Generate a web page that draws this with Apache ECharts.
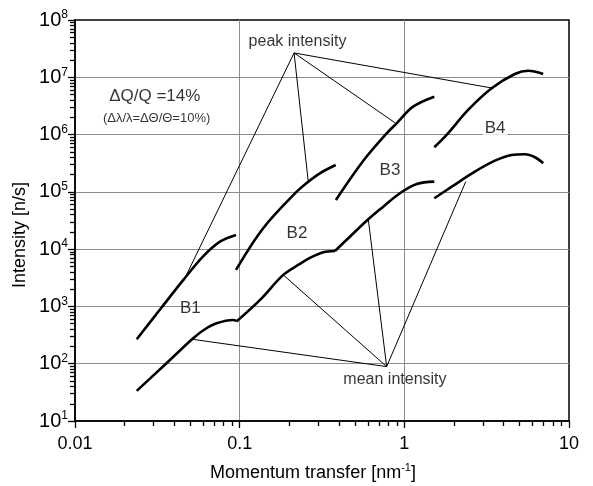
<!DOCTYPE html>
<html><head><meta charset="utf-8">
<script src="https://cdn.jsdelivr.net/npm/echarts@6/dist/echarts.min.js"></script>
<style>html,body{margin:0;padding:0;background:#fff}#c{width:593px;height:486px}</style>
</head><body><div id="c"></div>
<script>
// ---- data ----
const xTickLabels = ['0.01', '0.1', '1', '10'];
const yTickExponents = ['1', '2', '3', '4', '5', '6', '7', '8'];

const b1Peak = [[0.0237, 268], [0.033, 900], [0.0455, 2900], [0.0598, 7400], [0.0759, 13500], [0.095, 17700]];
const b1Mean = [[0.0237, 33.5], [0.035, 95], [0.0522, 279], [0.0615, 400], [0.0724, 509], [0.0914, 581], [0.0955, 558]];
const b2Peak = [[0.095, 4340], [0.139, 23200], [0.222, 100700], [0.261, 150700], [0.307, 211000], [0.383, 294000]];
const b2Mean = [[0.0955, 543], [0.133, 1300], [0.184, 3550], [0.232, 5520], [0.267, 7020], [0.322, 8830], [0.379, 9300]];
const b3Peak = [[0.384, 72200], [0.568, 360000], [0.781, 1.05e6], [0.897, 1.57e6], [1.13, 3.07e6], [1.52, 4.59e6]];
const b3Mean = [[0.379, 9300], [0.467, 16500], [0.604, 33200], [0.745, 55200], [0.94, 94600], [1.19, 137000], [1.52, 151000]];
const b4Peak = [[1.52, 600000], [1.806, 985000], [2.44, 2.69e6], [3.39, 6.43e6], [4.69, 1.14e7], [5.65, 1.30e7], [6.97, 1.14e7]];
const b4Mean = [[1.52, 77300], [1.94, 123000], [2.68, 225000], [3.55, 350000], [4.48, 440000], [5.40, 453000], [6.21, 402000], [6.97, 316000]];

const peakApex = [0.214, 2.66e7];
const peakTargets = [[0.0454, 2710], [0.261, 150000], [0.877, 1.61e6], [3.47, 6.43e6]];
const meanApex = [0.781, 89];
const meanTargets = [[0.0511, 268], [0.184, 3550], [0.604, 33200], [2.36, 151000]];

const textNotes = [
  {text: 'peak intensity', at: [0.2245, 4.18e7], style: 'note'},
  {text: 'mean intensity', at: [0.877, 52], style: 'note'},
  {text: 'B1', at: [0.0502, 942], style: 'band'},
  {text: 'B2', at: [0.223, 18900], style: 'band'},
  {text: 'B3', at: [0.818, 241000], style: 'band'},
  {text: 'B4', at: [3.56, 1.29e6], style: 'bandBg'},
  {text: 'ΔQ/Q =14%', at: [0.0305, 4.59e6], style: 'big'},
  {text: '(Δλ/λ=ΔΘ/Θ=10%)', at: [0.0313, 1.92e6], style: 'small'}
];

// ---- chart ----
const FONT = 'Liberation Sans, Arial, sans-serif';
const xMin = 0.01, xMax = 10, yMin = 10, yMax = 1e8;

const noteStyles = {
  note: {fontSize: 16},
  band: {fontSize: 17},
  bandBg: {fontSize: 17, backgroundColor: '#fff', padding: [0, 2]},
  big: {fontSize: 17},
  small: {fontSize: 13}
};

function curve(data) {
  return {type: 'line', data: data, smooth: 0.35, showSymbol: false, symbol: 'none',
    lineStyle: {color: '#000', width: 2.6}, z: 3, animation: false, silent: true};
}
function thin(a, b) {
  return {type: 'line', data: [a, b], showSymbol: false, symbol: 'none',
    lineStyle: {color: '#000', width: 1}, z: 2, animation: false, silent: true};
}

const series = [];
[b1Peak, b1Mean, b2Peak, b2Mean, b3Peak, b3Mean, b4Peak, b4Mean].forEach(d => series.push(curve(d)));
peakTargets.forEach(t => series.push(thin(peakApex, t)));
meanTargets.forEach(t => series.push(thin(meanApex, t)));

series.push({
  type: 'scatter', symbolSize: 0, silent: true, animation: false, z: 10,
  data: textNotes.map(n => ({
    value: n.at,
    label: Object.assign({show: true, position: 'inside', formatter: n.text, color: '#000', fontFamily: FONT}, noteStyles[n.style])
  }))
});

const chart = echarts.init(document.getElementById('c'), null, {renderer: 'canvas'});
chart.setOption({
  backgroundColor: '#fff',
  animation: false,
  grid: {left: 75, right: 24, top: 20, bottom: 65, show: true, borderColor: '#000', borderWidth: 1.5, backgroundColor: 'transparent', outerBoundsMode: 'none'},
  xAxis: {
    type: 'log', logBase: 10, min: xMin, max: xMax, interval: 1, splitNumber: 3,
    axisLine: {show: true, lineStyle: {color: '#000', width: 1.5}},
    axisTick: {show: true, inside: false, length: 7, lineStyle: {color: '#000', width: 1.3}},
    minorTick: {show: true, splitNumber: 9, length: 5, lineStyle: {color: '#000', width: 1.3}},
    axisLabel: {margin: 14, color: '#000', fontSize: 18, fontFamily: FONT,
      formatter: (v, i) => xTickLabels[i]},
    splitLine: {show: true, showMinLine: false, showMaxLine: false, lineStyle: {color: '#8c8c8c', width: 1}}
  },
  yAxis: {
    type: 'log', logBase: 10, min: yMin, max: yMax, interval: 1, splitNumber: 7,
    axisLine: {show: true, lineStyle: {color: '#000', width: 1.5}},
    axisTick: {show: true, inside: false, length: 7, lineStyle: {color: '#000', width: 1.3}},
    minorTick: {show: true, splitNumber: 9, length: 5, lineStyle: {color: '#000', width: 1.3}},
    axisLabel: {margin: 7, color: '#000', fontFamily: FONT,
      formatter: (v, i) => '{b|10}{s|' + yTickExponents[i] + '}',
      rich: {
        b: {fontSize: 20, fontFamily: FONT, color: '#000', lineHeight: 22},
        s: {fontSize: 12, fontFamily: FONT, color: '#000', verticalAlign: 'top', lineHeight: 22, padding: [0, 0, 8, 0]}
      }},
    splitLine: {show: true, showMinLine: false, showMaxLine: false, lineStyle: {color: '#8c8c8c', width: 1}}
  },
  graphic: [
    {type: 'text', x: 313, y: 473, silent: true,
      style: {text: '{n|Momentum transfer [nm}{s|-1}{n|]}', align: 'center', verticalAlign: 'middle',
        rich: {
          n: {fontSize: 18, fontFamily: FONT, fill: '#000', lineHeight: 22},
          s: {fontSize: 11, fontFamily: FONT, fill: '#000', verticalAlign: 'top', lineHeight: 22, padding: [0, 0, 8, 0]}
        }}},
    {type: 'text', x: 20, y: 235, rotation: Math.PI / 2, silent: true,
      style: {text: 'Intensity [n/s]', align: 'center', verticalAlign: 'middle', fontSize: 18, fontFamily: FONT, fill: '#000'}}
  ],
  series: series
});
</script>
</body></html>
